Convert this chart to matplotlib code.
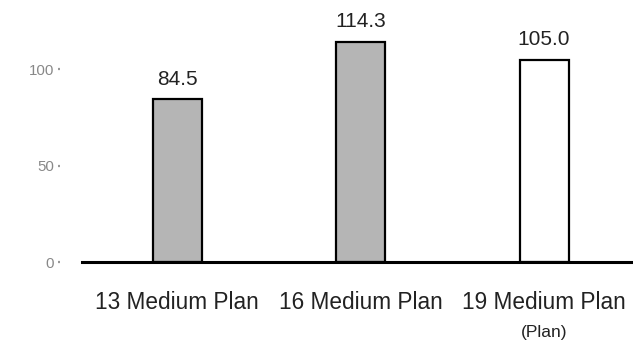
import matplotlib
matplotlib.use("Agg")
import matplotlib.pyplot as plt
import matplotlib.transforms as mtransforms

# ── data ──
CATEGORIES = ["13 Medium Plan", "16 Medium Plan", "19 Medium Plan"]
VALUES = [84.5, 114.3, 105.0]
IS_PLAN = [False, False, True]
Y_TICKS = [0, 50, 100]

plt.rcParams["font.family"] = ["Liberation Sans", "DejaVu Sans"]

fig = plt.figure(figsize=(6.33, 3.46), dpi=100)
ax = fig.add_axes([82 / 633, 84 / 346, 551 / 633, 262 / 346])

x = list(range(len(CATEGORIES)))
colors = ["white" if p else "#b5b5b5" for p in IS_PLAN]
bars = ax.bar(x, VALUES, width=0.267, color=colors,
              edgecolor="black", linewidth=1.6, zorder=2)

# value labels above bars
for b, v in zip(bars, VALUES):
    ax.annotate(f"{v:.1f}", (b.get_x() + b.get_width() / 2, b.get_height()),
                xytext=(0, 7.5), textcoords="offset points",
                ha="center", va="bottom", fontsize=15, color="#222222")

ax.set_xlim(-0.518, 2.485)
ax.set_ylim(0, 136)

# ── axes styling ──
for s in ["top", "right"]:
    ax.spines[s].set_visible(False)
ax.spines["bottom"].set_linewidth(2.2)
ax.spines["bottom"].set_color("black")
ax.spines["left"].set_visible(False)
ax.spines["left"].set_position(("outward", 15.5))

ax.set_yticks(Y_TICKS)
ax.tick_params(axis="y", length=1.6, width=1.6, color="#999999",
               pad=3, labelsize=10.8, labelcolor="#888888")
ax.set_xticks(x)
ax.set_xticklabels(CATEGORIES, fontsize=16.3, color="#222222")
ax.tick_params(axis="x", length=0, pad=21)

# "(Plan)" note under the plan category
trans = mtransforms.blended_transform_factory(ax.transData, fig.transFigure)
for xi, p in zip(x, IS_PLAN):
    if p:
        ax.text(xi, 13 / 346, "(Plan)", transform=trans, ha="center",
                va="center", fontsize=12.5, color="#222222")

fig.savefig("out.png", dpi=100)
plt.close(fig)
